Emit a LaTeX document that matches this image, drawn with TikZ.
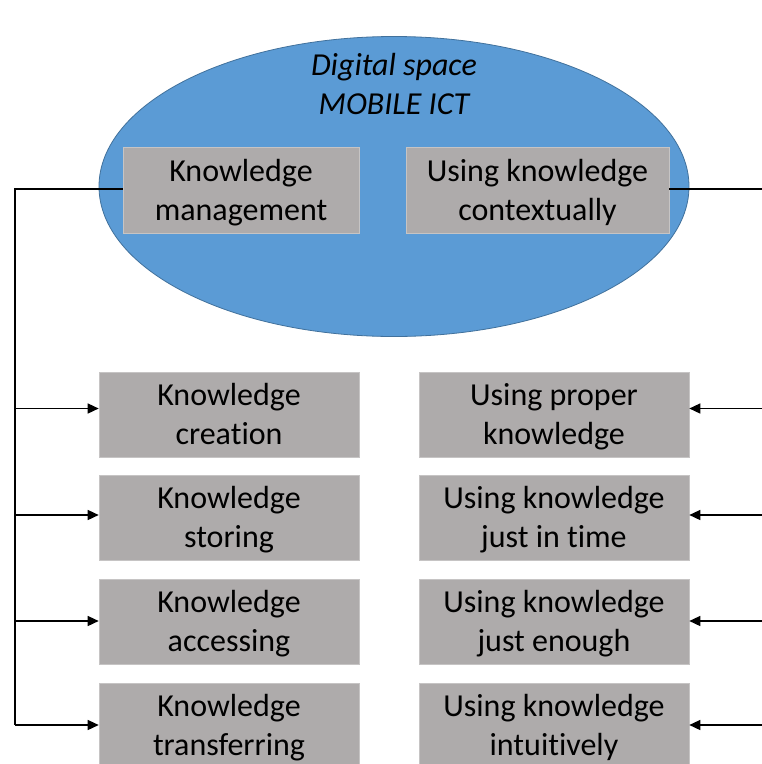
\documentclass[tikz,border=0pt]{standalone}
\usepackage{fontspec}
\setmainfont{Carlito}[Ligatures={NoCommon}]
\usetikzlibrary{arrows.meta,shapes.geometric}
\definecolor{spaceblue}{HTML}{5B9BD5}
\definecolor{spaceedge}{HTML}{41719C}
\definecolor{boxgray}{HTML}{AEABAB}
\tikzset{
  txt/.style={align=center, inner sep=0pt, text height=68pt, text depth=8pt,
    font=\fontsize{32}{39}\selectfont},
  box/.style={txt, fill=boxgray, draw=boxgray!70!white, line width=0.6pt},
  link/.style={draw=black, line width=1.4pt},
  arr/.style={link, -{Triangle[length=11pt, width=10pt]}}
}
\begin{document}
\begin{tikzpicture}[x=1pt, y=-1pt]
  \useasboundingbox[fill=white] (0,0) rectangle (762,764);
  % digital space
  \node[ellipse, minimum width=590pt, minimum height=300pt, inner sep=0pt,
        fill=spaceblue, draw=spaceedge, line width=0.8pt] (space) at (394,186.5) {};
  \node[txt, font=\fontsize{32}{39}\selectfont\itshape] (title) at (394,84)
        {Digital space\\MOBILE ICT};
  \node[box, minimum width=236pt, minimum height=86pt] (km) at (241,190)
        {Knowledge\\management};
  \node[box, minimum width=263pt, minimum height=86pt] (ukc) at (537.5,190)
        {Using knowledge\\contextually};
  % left column
  \node[box, minimum width=260pt, minimum height=85pt] (kc) at (229,414.5) {Knowledge\\creation};
  \node[box, minimum width=260pt, minimum height=85pt] (ks) at (229,517.5) {Knowledge\\storing};
  \node[box, minimum width=260pt, minimum height=85pt] (ka) at (229,621.5) {Knowledge\\accessing};
  \node[box, minimum width=260pt, minimum height=85pt] (kt) at (229,725.5) {Knowledge\\transferring};
  % right column
  \node[box, minimum width=270pt, minimum height=85pt] (up) at (554,414.5) {Using proper\\knowledge};
  \node[box, minimum width=270pt, minimum height=85pt] (ut) at (554,517.5) {Using knowledge\\just in time};
  \node[box, minimum width=270pt, minimum height=85pt] (ue) at (554,621.5) {Using knowledge\\just enough};
  \node[box, minimum width=270pt, minimum height=85pt] (ui) at (554,725.5) {Using knowledge\\intuitively};
  % bus lines
  \coordinate (lx) at (15,0);
  \coordinate (rx) at (765,0);
  \draw[link] ([yshift=1pt]km.west) -| ([yshift=1pt]lx |- ui.west);
  \draw[link] ([yshift=1pt]ukc.east) -- ([yshift=1pt]rx |- ukc.east);
  \foreach \b/\s in {kc/6, ks/2.5, ka/0.5, kt/0.5} {
    \draw[arr] ([yshift=\s pt]lx |- \b.west) -- ([yshift=\s pt]\b.west);
  }
  \foreach \b/\s in {up/6, ut/2.5, ue/0.5, ui/0.5} {
    \draw[arr] ([yshift=\s pt]rx |- \b.east) -- ([yshift=\s pt]\b.east);
  }
\end{tikzpicture}
\end{document}
